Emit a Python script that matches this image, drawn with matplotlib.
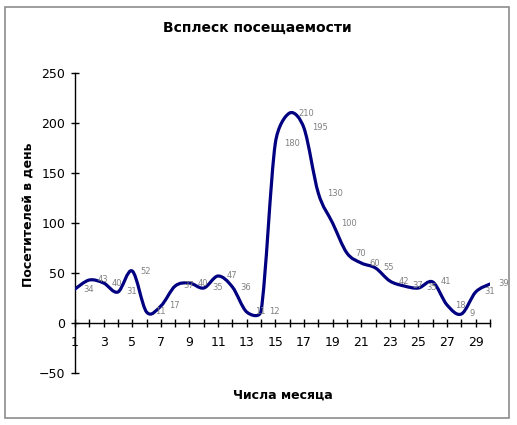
import numpy as np
import matplotlib
matplotlib.use("Agg")
import matplotlib.pyplot as plt
from matplotlib.path import Path
from matplotlib.patches import PathPatch, Rectangle

# Data
days = list(range(1, 31))
visitors = [34, 43, 40, 31, 52, 11, 17, 37, 40, 35,
            47, 36, 11, 12, 180, 210, 195, 130, 100, 70,
            60, 55, 42, 37, 35, 41, 18, 9, 31, 39]

title = "Всплеск посещаемости"
xlabel = "Числа месяца"
ylabel = "Посетителей в день"
yticks = [-50, 0, 50, 100, 150, 200, 250]
xtick_labels = list(range(1, 30, 2))

plt.rcParams['font.family'] = ['DejaVu Sans']

W, H = 517, 425
fig = plt.figure(figsize=(W / 100, H / 100), dpi=100)

# chart border
fig.patches.append(Rectangle((5 / W, 7 / H), 504 / W, 411 / H, transform=fig.transFigure,
                             fill=False, edgecolor="#8c8c8c", linewidth=1.2))

ax = fig.add_axes([75 / W, (H - 373) / H, (490 - 75) / W, 300 / H])
ax.set_xlim(1, 30)
ax.set_ylim(-50, 250)

# smoothed line like Excel: cubic Bezier, tangents limited by segment length
sx, sy = 415 / 29, 1.0  # px per data unit
x = np.array(days, dtype=float) * sx
y = np.array(visitors, dtype=float) * sy
n = len(x)
P = np.column_stack([x, y])
T = np.zeros_like(P)
for i in range(n):
    a = P[max(i - 1, 0)]
    b = P[min(i + 1, n - 1)]
    T[i] = (b - a) / 6


def limited(t, seg, k=0.5):
    lt = np.hypot(*t)
    ls = np.hypot(*seg)
    if lt > k * ls and lt > 0:
        return t * (k * ls / lt)
    return t


verts = [tuple(P[0] / [sx, sy])]
codes = [Path.MOVETO]
for i in range(n - 1):
    seg = P[i + 1] - P[i]
    c1 = P[i] + limited(T[i], seg)
    c2 = P[i + 1] - limited(T[i + 1], seg)
    for c in (c1, c2, P[i + 1]):
        verts.append((c[0] / sx, c[1] / sy))
    codes += [Path.CURVE4] * 3
ax.add_patch(PathPatch(Path(verts, codes), fill=False, edgecolor="#000080",
                       linewidth=2.3, capstyle="round", joinstyle="round", zorder=3))

for d, v in zip(days, visitors):
    ax.annotate(str(v), (d, v), xytext=(6, 0), textcoords="offset points",
                ha="left", va="center", fontsize=6, color="#808080", zorder=4)

for s in ["top", "right"]:
    ax.spines[s].set_visible(False)
ax.spines["bottom"].set_position(("data", 0))
ax.spines["left"].set_linewidth(1)
ax.spines["bottom"].set_linewidth(1)

ax.set_yticks(yticks)
ax.set_xticks(days)
ax.set_xticklabels([str(d) if d in xtick_labels else "" for d in days])
ax.tick_params(axis="both", direction="inout", length=6, width=1, labelsize=9)
ax.tick_params(axis="x", pad=6)
ax.tick_params(axis="y", pad=4)

fig.text(257 / W, 1 - 28 / H, title, ha="center", va="center", fontsize=10, fontweight="bold")
fig.text(283 / W, 1 - 395 / H, xlabel, ha="center", va="center", fontsize=9, fontweight="bold")
fig.text(28 / W, 1 - 215 / H, ylabel, ha="center", va="center", rotation=90,
         fontsize=9, fontweight="bold")

fig.savefig("out.png", dpi=100)
